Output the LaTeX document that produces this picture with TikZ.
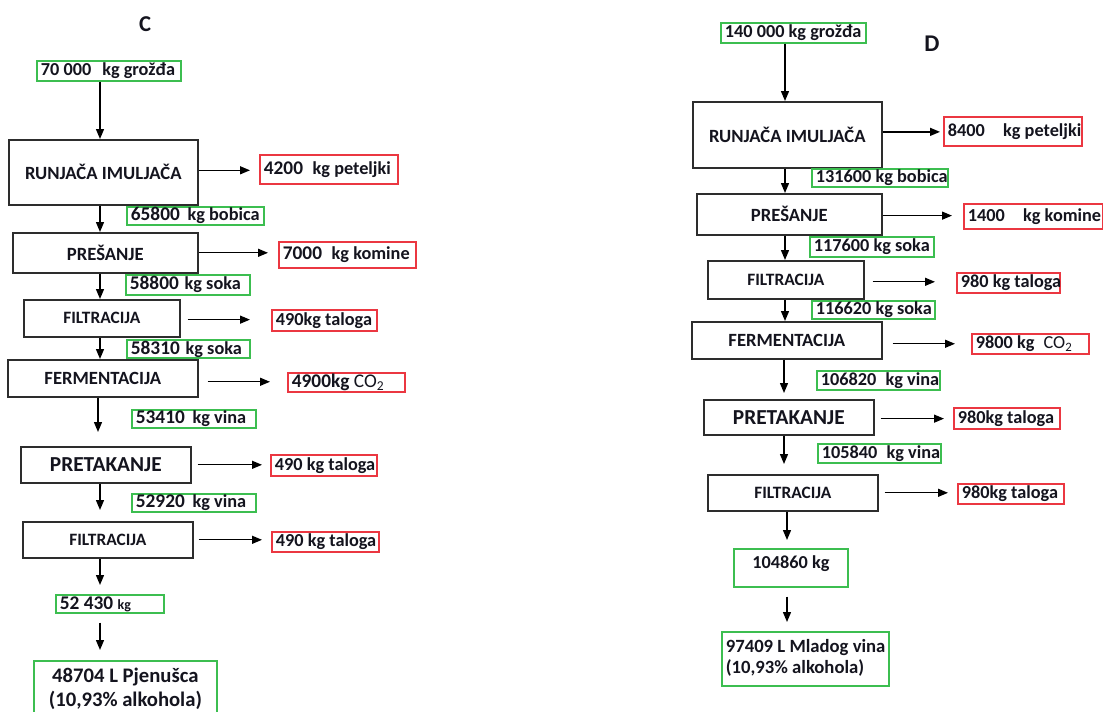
\documentclass[tikz,border=0pt]{standalone}
\usepackage{fontspec}
\setmainfont{Carlito}
\usetikzlibrary{arrows.meta}
\definecolor{gbx}{RGB}{60,190,80}
\definecolor{rbx}{RGB}{235,55,65}
\definecolor{pbx}{RGB}{45,45,45}
\definecolor{txt}{RGB}{20,20,30}
\newcommand\fs[1]{\fontsize{#1}{#1}\selectfont}
% name, style, x1, y1, x2, y2, text (centred)
\newcommand\mkbox[7]{%
 \pgfmathsetlengthmacro\bw{(#5-#3)*0.75pt}%
 \pgfmathsetlengthmacro\bh{(#6-#4)*0.75pt}%
 \node[#2, anchor=north west, minimum width=\bw, minimum height=\bh, inner sep=0pt] (#1) at (#3,#4) {#7};}
% same, text at the left
\newcommand\mkboxl[7]{%
 \pgfmathsetlengthmacro\bw{(#5-#3)*0.75pt}%
 \pgfmathsetlengthmacro\bh{(#6-#4)*0.75pt}%
 \node[#2, anchor=north west, minimum width=\bw, minimum height=\bh, inner sep=0pt] (#1) at (#3,#4) {\makebox[\bw][l]{\hspace{3pt}#7}};}
\tikzset{
 proc/.style={draw=pbx, line width=1.2pt, font=\bfseries\fs{14}, text=txt},
 gbox/.style={draw=gbx, line width=1.3pt, font=\bfseries\fs{13.7}, text=txt},
 rbox/.style={draw=rbx, line width=1.3pt, font=\bfseries\fs{13.7}, text=txt},
 arr/.style={line width=1pt, draw=black, -{Triangle[length=7.5pt,width=6pt]}},
}
\newcommand\cotwo{\textmd{CO\textsubscript{2}}}
\begin{document}
\begin{tikzpicture}[x=0.75pt,y=-0.75pt]
\useasboundingbox[fill=white] (0,0) rectangle (1103,711);
% ---------------- C ----------------
\node[font=\bfseries\fs{17}, text=txt] (labC) at (145,24) {C};
\mkboxl{in1}{gbox}{36}{60}{180}{80}{70 000\hspace{0.6em}kg grožđa}
\mkbox{p1}{proc}{8}{139}{197}{204}{RUNJAČA IMULJAČA}
\mkboxl{r1}{rbox}{259}{154}{397}{183}{\fs{14.5}4200\hspace{0.5em}{\fs{13.7}kg peteljki}}
\mkboxl{g1}{gbox}{126}{206}{263}{224}{\fs{14.5}65800\hspace{0.4em}{\fs{13.7}kg bobica}}
\mkbox{p2}{proc}{12}{232}{197}{272}{PREŠANJE}
\mkboxl{r2}{rbox}{278}{241}{415}{267}{\fs{14.5}7000\hspace{0.5em}{\fs{13.7}kg komine}}
\mkboxl{g2}{gbox}{125}{274}{249}{294}{\fs{14.5}58800\hspace{0.3em}{\fs{13.7}kg soka}}
\mkbox{p3}{proc,font=\bfseries\fs{13}}{23}{299}{179}{336}{FILTRACIJA}
\mkboxl{r3}{rbox}{271}{309}{376}{330}{490kg taloga}
\mkboxl{g3}{gbox}{126}{339}{249}{357}{\fs{14.5}58310\hspace{0.3em}{\fs{13.7}kg soka}}
\mkbox{p4}{proc}{7}{359}{197}{396}{FERMENTACIJA}
\mkboxl{r4}{rbox}{287}{372}{404}{391}{\fs{14.5}4900kg \cotwo}
\mkboxl{g4}{gbox}{131}{409}{255}{427}{\fs{14.5}53410\hspace{0.4em}{\fs{13.7}kg vina}}
\mkbox{p5}{proc,font=\bfseries\fs{16}}{20}{446}{190}{482}{PRETAKANJE}
\mkboxl{r5}{rbox}{270}{454}{376}{475}{490 kg taloga}
\mkboxl{g5}{gbox}{131}{493}{255}{511}{\fs{14.5}52920\hspace{0.4em}{\fs{13.7}kg vina}}
\mkbox{p6}{proc,font=\bfseries\fs{13}}{22}{521}{192}{557}{FILTRACIJA}
\mkboxl{r6}{rbox}{271}{531}{378}{551}{490 kg taloga}
\mkboxl{g6}{gbox}{55}{594}{163}{612}{\fs{14.5}52 430 {\fs{10.5}kg}}
\mkbox{fin1}{gbox,font=\bfseries\fs{15.5},align=center}{33}{660}{216}{716}{48704 L Pjenušca\\[2pt](10,93\% alkohola)}
\coordinate (cx) at (100,0);
\coordinate (cxb) at (98,0);
\draw[arr] (in1.south -| cx) -- (p1.north -| cx);
\draw[arr] (p1.south -| cx) -- (p2.north -| cx);
\draw[arr] (p2.south -| cx) -- (p3.north -| cx);
\draw[arr] (p3.south -| cx) -- (p4.north -| cx);
\draw[arr,shorten >=10.5pt] (p4.south -| cxb) -- (p5.north -| cxb);
\draw[arr,shorten >=8.25pt] (p5.south -| cx) -- (p6.north -| cx);
\draw[arr,shorten >=6.75pt] (p6.south -| cx) -- (g6.north -| cx);
\draw[arr,shorten <=6.75pt,shorten >=7.5pt] (g6.south -| cx) -- (fin1.north -| cx);
\draw[arr,shorten >=6.75pt] ([yshift=1.5pt]p1.east) -- ([yshift=1.5pt]p1.east -| r1.west);
\draw[arr,shorten >=7.5pt] (p2.east) -- (p2.east -| r2.west);
\draw[arr,shorten <=5.25pt,shorten >=15.75pt] ([yshift=-1pt]p3.east) -- ([yshift=-1pt]p3.east -| r3.west);
\draw[arr,shorten <=6.75pt,shorten >=12.75pt] ([yshift=-2.6pt]p4.east) -- ([yshift=-2.6pt]p4.east -| r4.west);
\draw[arr,shorten <=4.5pt,shorten >=6pt] (p5.east) -- (p5.east -| r5.west);
\draw[arr,shorten <=3.75pt,shorten >=6.75pt] (p6.east) -- (p6.east -| r6.west);
% ---------------- D ----------------
\node[font=\bfseries\fs{18}, text=txt] (labD) at (932,44) {D};
\mkboxl{in2}{gbox}{720}{22}{865}{42}{140 000 kg grožđa}
\mkbox{q1}{proc}{692}{101}{881}{167}{RUNJAČA IMULJAČA}
\mkboxl{s1}{rbox}{943}{116}{1081}{145}{8400\hspace{1em}kg peteljki}
\mkboxl{h1}{gbox}{811}{168}{947}{186}{131600 kg bobica}
\mkbox{q2}{proc}{696}{193}{881}{234}{PREŠANJE}
\mkboxl{s2}{rbox}{963}{203}{1102}{228}{1400\hspace{1em}kg komine}
\mkboxl{h2}{gbox}{809}{236}{933}{256}{117600 kg soka}
\mkbox{q3}{proc,font=\bfseries\fs{13}}{707}{260}{863}{298}{FILTRACIJA}
\mkboxl{s3}{rbox}{956}{272}{1059}{292}{980 kg taloga}
\mkboxl{h3}{gbox}{811}{300}{934}{318}{116620 kg soka}
\mkbox{q4}{proc}{691}{321}{881}{358}{FERMENTACIJA}
\mkboxl{s4}{rbox}{971}{333}{1088}{353}{9800 kg\hspace{0.5em}\cotwo}
\mkboxl{h4}{gbox}{816}{370}{939}{389}{106820\hspace{0.5em}kg vina}
\mkbox{q5}{proc,font=\bfseries\fs{16}}{703}{399}{873}{434}{PRETAKANJE}
\mkboxl{s5}{rbox}{953}{407}{1059}{428}{980kg taloga}
\mkboxl{h5}{gbox}{817}{443}{940}{462}{105840\hspace{0.5em}kg vina}
\mkbox{q6}{proc,font=\bfseries\fs{13}}{707}{474}{877}{510}{FILTRACIJA}
\mkboxl{s6}{rbox}{957}{483}{1063}{503}{980kg taloga}
\mkbox{h6}{gbox,text depth=13.5pt,text height=15pt}{733}{548}{847}{586}{104860 kg}
\mkboxl{fin2}{gbox,font=\bfseries\fs{14}}{721}{631}{888}{685}{\begin{tabular}{@{}l@{}}97409 L Mladog vina\\[1pt](10,93\% alkohola)\end{tabular}}
\coordinate (dx) at (785,0);
\coordinate (dxb) at (784,0);
\coordinate (dxc) at (787,0);
\draw[arr] (in2.south -| dx) -- (q1.north -| dx);
\draw[arr] (q1.south -| dx) -- (q2.north -| dx);
\draw[arr] (q2.south -| dx) -- (q3.north -| dx);
\draw[arr] (q3.south -| dx) -- (q4.north -| dx);
\draw[arr,shorten >=4.5pt] (q4.south -| dxb) -- (q5.north -| dxb);
\draw[arr,shorten >=7.5pt] (q5.south -| dxb) -- (q6.north -| dxb);
\draw[arr,shorten >=6pt] (q6.south -| dxc) -- (h6.north -| dxc);
\draw[arr,shorten <=6.75pt,shorten >=6.75pt] (h6.south -| dxc) -- (fin2.north -| dxc);
\draw[arr,shorten >=2.25pt] ([yshift=2.2pt]q1.east) -- ([yshift=2.2pt]q1.east -| s1.west);
\draw[arr,shorten >=8.25pt] ([yshift=-1pt]q2.east) -- ([yshift=-1pt]q2.east -| s2.west);
\draw[arr,shorten <=6pt,shorten >=15.75pt] ([yshift=-1.5pt]q3.east) -- ([yshift=-1.5pt]q3.east -| s3.west);
\draw[arr,shorten <=7.5pt,shorten >=12pt] ([yshift=-2.6pt]q4.east) -- ([yshift=-2.6pt]q4.east -| s4.west);
\draw[arr,shorten <=4.5pt,shorten >=6.75pt] ([yshift=-1pt]q5.east) -- ([yshift=-1pt]q5.east -| s5.west);
\draw[arr,shorten <=4.5pt,shorten >=6.75pt] (q6.east) -- (q6.east -| s6.west);
\end{tikzpicture}
\end{document}
